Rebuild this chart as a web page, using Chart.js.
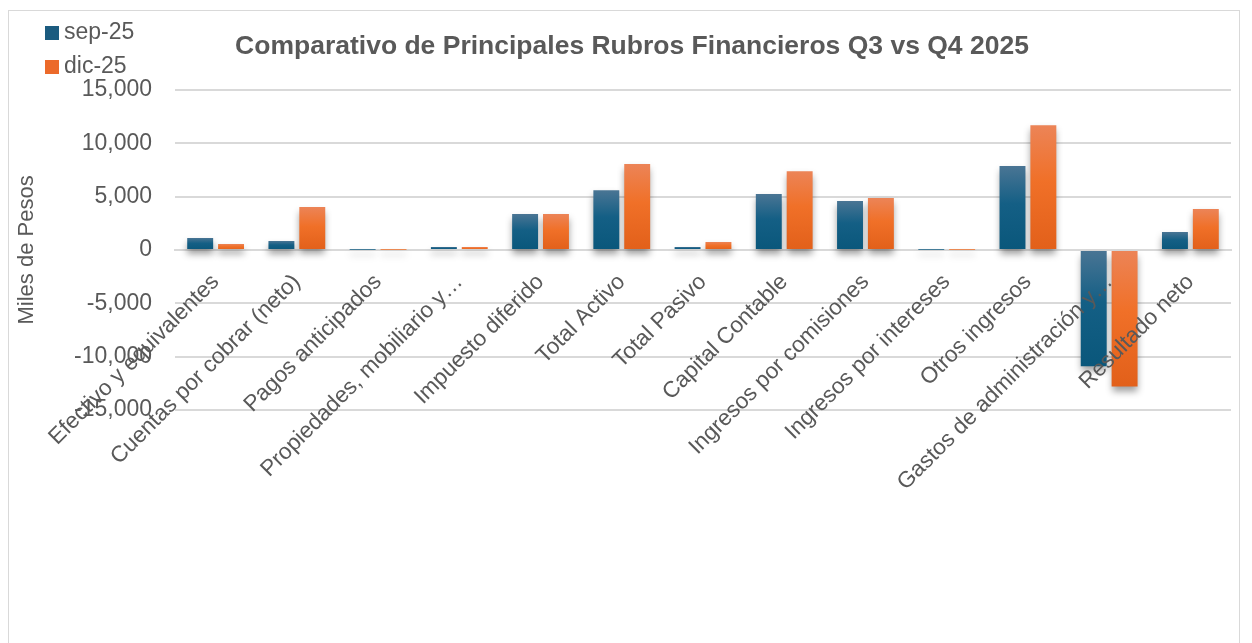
<!DOCTYPE html>
<html>
<head>
<meta charset="utf-8">
<script src="https://cdn.jsdelivr.net/npm/chart.js@4.4.1/dist/chart.umd.min.js"></script>
<style>
  html, body { margin: 0; padding: 0; background: #ffffff; }
  #wrap { position: relative; width: 1252px; height: 643px; }
  #frame { position: absolute; left: 8px; top: 10px; width: 1232px; height: 640px; border: 1px solid #d9d9d9; box-sizing: border-box; }
  canvas { position: absolute; left: 0; top: 0; }
</style>
</head>
<body>
<div id="wrap">
  <div id="frame"></div>
  <canvas id="c" width="1252" height="643"></canvas>
</div>
<script>
const categories = [
  "Efectivo y equivalentes",
  "Cuentas por cobrar (neto)",
  "Pagos anticipados",
  "Propiedades, mobiliario y…",
  "Impuesto diferido",
  "Total Activo",
  "Total Pasivo",
  "Capital Contable",
  "Ingresos por comisiones",
  "Ingresos por intereses",
  "Otros ingresos",
  "Gastos de administración y…",
  "Resultado neto"
];
const seriesNames = ["sep-25", "dic-25"];
const sep25 = [1120, 840, 5, 280, 3360, 5600, 280, 5230, 4580, 5, 7850, -10900, 1680];
const dic25 = [560, 4020, 5, 280, 3360, 8040, 750, 7380, 4860, 5, 11680, -12800, 3830];
const yTicks = [-15000, -10000, -5000, 0, 5000, 10000, 15000];

const TEXT = "#595959";
const FONT = "'Liberation Sans', Arial, sans-serif";

function gradientFill(top, mid, bottom) {
  return (ctx) => {
    const chart = ctx.chart;
    if (!chart.chartArea || ctx.type !== 'data') return mid;
    const ys = chart.scales.y;
    const v = ctx.raw;
    const y0 = ys.getPixelForValue(Math.max(v, 0));
    const y1 = ys.getPixelForValue(Math.min(v, 0));
    if (y1 - y0 < 2) return mid;
    const g = chart.ctx.createLinearGradient(0, y0, 0, y1);
    g.addColorStop(0, top);
    g.addColorStop(0.45, mid);
    g.addColorStop(1, bottom);
    return g;
  };
}

const shadowPlugin = {
  id: 'barShadow',
  beforeDatasetsDraw(chart) {
    const c = chart.ctx;
    c.save();
    c.shadowColor = 'rgba(0,0,0,0.38)';
    c.shadowBlur = 7;
    c.shadowOffsetX = 0;
    c.shadowOffsetY = 5;
  },
  afterDatasetsDraw(chart) {
    chart.ctx.restore();
  }
};

const legendPlugin = {
  id: 'cornerLegend',
  afterDraw(chart) {
    const c = chart.ctx;
    c.save();
    const colors = ['#1b5b7f', '#ec6a2a'];
    const rows = [33, 67];
    chart.data.datasets.forEach((ds, i) => {
      c.fillStyle = colors[i];
      c.fillRect(45, rows[i] - 7, 14, 14);
      c.fillStyle = TEXT;
      c.font = "23px " + FONT;
      c.textBaseline = 'middle';
      c.textAlign = 'left';
      c.fillText(ds.label, 64, rows[i]);
    });
    c.restore();
  }
};

new Chart(document.getElementById('c'), {
  type: 'bar',
  data: {
    labels: categories,
    datasets: [
      {
        label: seriesNames[0],
        data: sep25,
        backgroundColor: gradientFill('#4a7594', '#145f85', '#0a577b'),
        categoryPercentage: 0.76,
        barPercentage: 0.84
      },
      {
        label: seriesNames[1],
        data: dic25,
        backgroundColor: gradientFill('#ec8457', '#f07028', '#e2601a'),
        categoryPercentage: 0.76,
        barPercentage: 0.84
      }
    ]
  },
  options: {
    responsive: false,
    animation: false,
    devicePixelRatio: 1,
    layout: { padding: { left: 33, right: 21, top: 0, bottom: 233 } },
    plugins: {
      legend: { display: false },
      tooltip: { enabled: false },
      title: {
        display: true,
        text: 'Comparativo de Principales Rubros Financieros Q3 vs Q4 2025',
        color: TEXT,
        font: { family: FONT, size: 26.5, weight: 'bold' },
        padding: { top: 31, bottom: 27 }
      }
    },
    scales: {
      x: {
        position: { y: 0 },
        grid: { display: false, drawTicks: false },
        border: { display: true, color: '#d9d9d9', width: 2, z: -1 },
        ticks: {
          z: 1,
          color: TEXT,
          font: { family: FONT, size: 22.5 },
          autoSkip: false,
          minRotation: 45,
          maxRotation: 45,
          padding: 19
        },
        afterFit(scale) { scale.height = 1; }
      },
      y: {
        min: -15000,
        max: 15000,
        afterBuildTicks(scale) { scale.ticks = yTicks.map(v => ({ value: v })); },
        afterFit(scale) { scale.width = 175 - 33; },
        grid: { color: '#d9d9d9', lineWidth: 2, drawTicks: false },
        border: { display: false },
        ticks: {
          color: TEXT,
          font: { family: FONT, size: 23 },
          padding: 23,
          callback: (v) => v.toLocaleString('en-US')
        },
        title: {
          display: true,
          text: 'Miles de Pesos',
          color: TEXT,
          font: { family: FONT, size: 22 },
          padding: { top: -19, bottom: 0 }
        }
      }
    }
  },
  plugins: [shadowPlugin, legendPlugin]
});
</script>
</body>
</html>
